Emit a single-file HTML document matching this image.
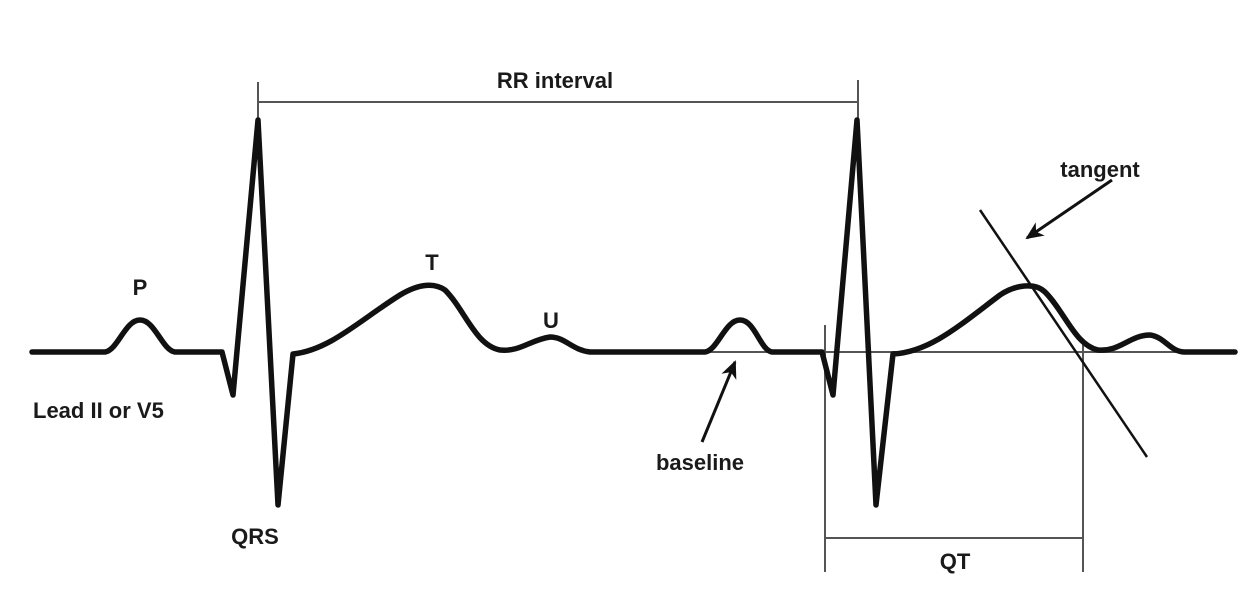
<!DOCTYPE html>
<html><head><meta charset="utf-8"><style>
html,body{margin:0;padding:0;background:#fff;}
svg{display:block}
text{font-family:"Liberation Sans",Arial,sans-serif;font-size:22px;font-weight:bold;fill:#1a1a1a;}
</style></head><body>
<svg width="1260" height="608" viewBox="0 0 1260 608" xmlns="http://www.w3.org/2000/svg">
<defs><marker id="ah" markerWidth="20" markerHeight="16" refX="16" refY="8" orient="auto" markerUnits="userSpaceOnUse"><path d="M0,0 L18,8 L0,16 L5,8 Z" fill="#111"/></marker></defs>
<g stroke="#555" stroke-width="2" fill="none">
<line x1="258" y1="82" x2="258" y2="125"/>
<line x1="858" y1="80" x2="858" y2="125"/>
<line x1="258" y1="102" x2="858" y2="102"/>
<line x1="825" y1="325" x2="825" y2="572"/>
<line x1="1083" y1="345" x2="1083" y2="572"/>
<line x1="825" y1="538" x2="1083" y2="538"/>
<line x1="710" y1="352" x2="1200" y2="352"/>
</g>
<line x1="980" y1="210" x2="1147" y2="457" stroke="#111" stroke-width="2.5"/>
<path d="M32,352 L105,352 C118,350 125,320 140,320 C155,320 162,350 175,352 L222,352 L233,395 L258,120 L278,505 L293,354 C330,350 360,320 400,295 C420,283 435,283 445,290 C465,310 475,345 500,350 C520,352 530,340 550,337 C565,337 572,350 590,352 L705,352 C718,350 725,320 740,320 C755,320 760,350 772,352 L822,352 L833,395 L857,120 L876,505 L893,354 C930,352 960,325 1000,295 C1015,285 1035,282 1045,292 C1065,312 1075,345 1098,350 C1120,352 1130,335 1150,335 C1165,337 1170,352 1185,352 L1235,352" fill="none" stroke="#111" stroke-width="5.5" stroke-linejoin="round" stroke-linecap="round"/>
<line x1="1112" y1="180" x2="1027" y2="238" stroke="#111" stroke-width="3" marker-end="url(#ah)"/>
<line x1="702" y1="442" x2="735" y2="362" stroke="#111" stroke-width="3" marker-end="url(#ah)"/>
<text x="555" y="88" text-anchor="middle">RR interval</text>
<text x="140" y="295" text-anchor="middle">P</text>
<text x="432" y="270" text-anchor="middle">T</text>
<text x="551" y="328" text-anchor="middle">U</text>
<text x="255" y="544" text-anchor="middle">QRS</text>
<text x="33" y="418">Lead II or V5</text>
<text x="700" y="470" text-anchor="middle">baseline</text>
<text x="1100" y="177" text-anchor="middle">tangent</text>
<text x="955" y="569" text-anchor="middle">QT</text>
</svg>
</body></html>
